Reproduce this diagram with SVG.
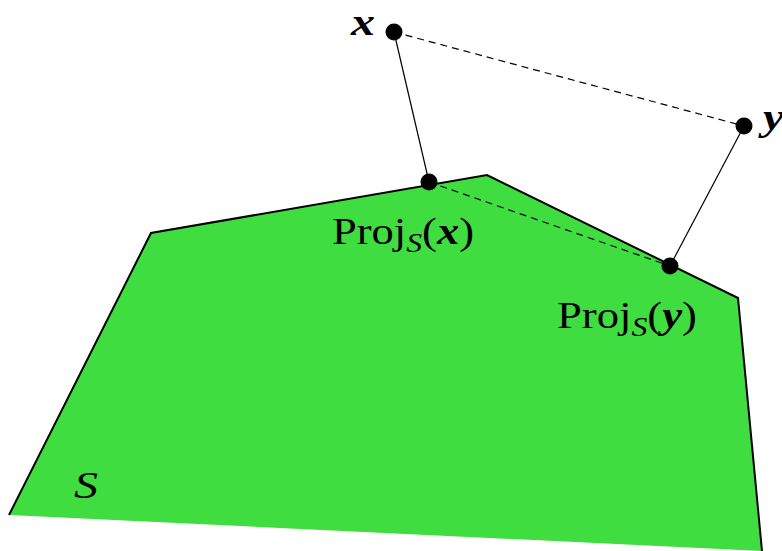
<svg xmlns="http://www.w3.org/2000/svg" width="782" height="551" viewBox="0 0 782 551">
<style>
.lbl{font-family:"Liberation Serif","Times New Roman",serif;font-size:38px;fill:#000}
.it{font-style:italic}
.bi{font-style:italic;font-weight:bold}
.sub{font-size:27px;font-style:italic}
.pt{fill:#000}
</style>
<g id="set-S">
<polygon points="9,515 151,233 487,175 738,298 762,551" fill="#3fdd3f" stroke="none"/>
<polyline points="9,515 151,233 487,175 738,298 762,551" fill="none" stroke="#000" stroke-width="2"/>
<text class="lbl it" x="74" y="498" textLength="24" lengthAdjust="spacingAndGlyphs">S</text>
</g>
<g id="connectors" stroke="#000" stroke-width="1.2" fill="none">
<line x1="394" y1="32" x2="744" y2="126" stroke-dasharray="7,5"/>
<line x1="429" y1="182" x2="670" y2="266" stroke-dasharray="7,5"/>
<line x1="394" y1="32" x2="429" y2="182"/>
<line x1="744" y1="126" x2="670" y2="266"/>
</g>
<g id="node-x">
<circle class="pt" cx="394" cy="32" r="8.5"/>
<text class="lbl bi" x="351" y="35" textLength="24" lengthAdjust="spacingAndGlyphs">x</text>
</g>
<g id="node-y">
<circle class="pt" cx="744" cy="126" r="8.5"/>
<text class="lbl bi" x="763" y="130" textLength="21" lengthAdjust="spacingAndGlyphs">y</text>
</g>
<g id="node-proj-x">
<circle class="pt" cx="429" cy="182" r="8.5"/>
<text class="lbl" x="332" y="244" textLength="142" lengthAdjust="spacingAndGlyphs">Proj<tspan class="sub" dy="8">S</tspan><tspan dy="-8">(</tspan><tspan class="bi">x</tspan>)</text>
</g>
<g id="node-proj-y">
<circle class="pt" cx="670" cy="266" r="8.5"/>
<text class="lbl" x="557" y="328" textLength="140" lengthAdjust="spacingAndGlyphs">Proj<tspan class="sub" dy="8">S</tspan><tspan dy="-8">(</tspan><tspan class="bi">y</tspan>)</text>
</g>
</svg>
